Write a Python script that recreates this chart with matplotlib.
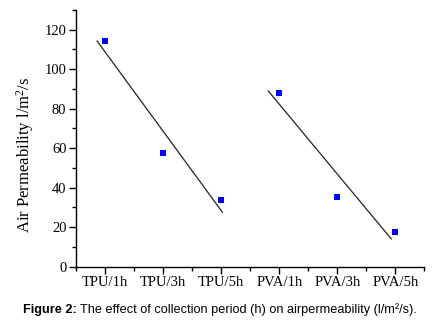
import numpy as np
import matplotlib
matplotlib.use("Agg")
import matplotlib.pyplot as plt
from matplotlib.ticker import MultipleLocator

categories = ["TPU/1h", "TPU/3h", "TPU/5h", "PVA/1h", "PVA/3h", "PVA/5h"]
values = [114.2, 57.4, 33.9, 88.0, 35.4, 17.3]
groups = [[0, 1, 2], [3, 4, 5]]
fit_ranges = [(0.86, 3.02), (3.81, 5.93)]

plt.rcParams['font.family'] = ['Liberation Serif', 'DejaVu Serif']
plt.rcParams['mathtext.fontset'] = 'custom'
plt.rcParams['mathtext.rm'] = 'Liberation Serif'
plt.rcParams['mathtext.it'] = 'Liberation Serif:italic'

fig = plt.figure(figsize=(4.33, 3.22), dpi=100)
ax = fig.add_axes([0.176, 0.172, 0.804, 0.797])

x = np.arange(1, len(categories) + 1)
ax.plot(x, values, 's', color='#0000ff', markersize=5, markeredgewidth=0, zorder=3)

for g, (x0, x1) in zip(groups, fit_ranges):
    gx = x[g]
    gy = np.array(values)[g]
    slope, inter = np.polyfit(gx, gy, 1)
    xs = np.array([x0, x1])
    ax.plot(xs, slope * xs + inter, color='#222222', lw=0.9)

ax.set_xlim(0.5, 6.5)
ax.set_ylim(0, 130)
ax.set_xticks(x)
ax.set_xticklabels(categories)
ax.xaxis.set_minor_locator(MultipleLocator(0.5))
ax.yaxis.set_major_locator(MultipleLocator(20))
ax.yaxis.set_minor_locator(MultipleLocator(10))
for s in ['top', 'right']:
    ax.spines[s].set_visible(False)
for s in ['left', 'bottom']:
    ax.spines[s].set_linewidth(1.0)
ax.tick_params(axis='both', which='major', direction='out', length=5, width=1,
               labelsize=10.5, pad=2)
ax.tick_params(axis='both', which='minor', direction='out', length=3, width=1)
ax.set_ylabel(r'Air Permeability l/m$^{2}$/s', fontsize=12)
ax.yaxis.set_label_coords(-0.116, 0.436)

fig.text(0.053, 0.028, 'Figure 2:', fontsize=9.2, family=['Liberation Sans', 'DejaVu Sans'],
         fontweight='bold', va='baseline', ha='left')
fig.text(0.053 + 0.131, 0.028,
         'The effect of collection period (h) on airpermeability (l/m²/s).',
         fontsize=9.2, family=['Liberation Sans', 'DejaVu Sans'], va='baseline', ha='left')

fig.savefig('out.png', dpi=100)
